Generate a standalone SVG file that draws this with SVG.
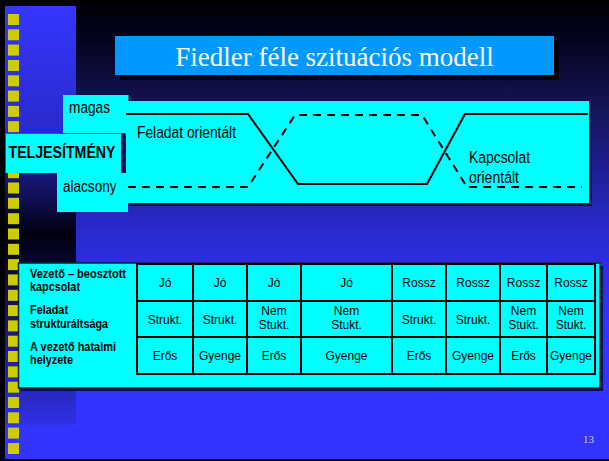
<svg xmlns="http://www.w3.org/2000/svg" width="609" height="461" viewBox="0 0 609 461">
<defs>
<linearGradient id="bg" x1="0" y1="5" x2="0" y2="459" gradientUnits="userSpaceOnUse">
<stop offset="0" stop-color="#000006"/>
<stop offset="0.06" stop-color="#02021a"/>
<stop offset="0.2" stop-color="#12124a"/>
<stop offset="0.5" stop-color="#2a2ad0"/>
<stop offset="0.7" stop-color="#3333ff"/>
<stop offset="1" stop-color="#3333ff"/>
</linearGradient>
<linearGradient id="strip" x1="0" y1="6" x2="0" y2="425" gradientUnits="userSpaceOnUse">
<stop offset="0" stop-color="#3535ff"/>
<stop offset="0.3" stop-color="#2a2acc"/>
<stop offset="0.545" stop-color="#000010"/>
<stop offset="1" stop-color="#3030e6"/>
</linearGradient>
<style>
.sq{fill:#cccc00}
.cy{fill:#00ffff}
.sh{fill:#10104e}
.lbl{font-family:"Liberation Sans",Arial,sans-serif;font-size:16px;fill:#000}
.b{font-weight:bold}
.cell{font-family:"Liberation Sans",Arial,sans-serif;font-size:12px;fill:#000;text-anchor:middle}
.rl{font-family:"Liberation Sans",Arial,sans-serif;font-size:12px;font-weight:bold;fill:#000}
.ln{fill:none;stroke:#000;stroke-width:2}
.dash{stroke-dasharray:8 6}
.grid{stroke:#000;stroke-width:2}
</style>
</defs>
<rect x="0" y="0" width="609" height="461" fill="#000"/>
<rect x="5" y="5" width="604" height="454" fill="url(#bg)"/>
<rect x="5" y="6" width="71" height="419" fill="url(#strip)"/>
<g id="squares">
<rect class="sq" x="8" y="14" width="11" height="11"/>
<rect class="sq" x="8" y="29.3" width="11" height="11"/>
<rect class="sq" x="8" y="44.6" width="11" height="11"/>
<rect class="sq" x="8" y="60" width="11" height="11"/>
<rect class="sq" x="8" y="75.3" width="11" height="11"/>
<rect class="sq" x="8" y="90.6" width="11" height="11"/>
<rect class="sq" x="8" y="105.9" width="11" height="11"/>
<rect class="sq" x="8" y="121.2" width="11" height="11"/>
<rect class="sq" x="8" y="136.6" width="11" height="11"/>
<rect class="sq" x="8" y="151.9" width="11" height="11"/>
<rect class="sq" x="8" y="167.2" width="11" height="11"/>
<rect class="sq" x="8" y="182.5" width="11" height="11"/>
<rect class="sq" x="8" y="197.8" width="11" height="11"/>
<rect class="sq" x="8" y="213.2" width="11" height="11"/>
<rect class="sq" x="8" y="228.5" width="11" height="11"/>
<rect class="sq" x="8" y="243.8" width="11" height="11"/>
<rect class="sq" x="8" y="259.1" width="11" height="11"/>
<rect class="sq" x="8" y="274.4" width="11" height="11"/>
<rect class="sq" x="8" y="289.8" width="11" height="11"/>
<rect class="sq" x="8" y="305.1" width="11" height="11"/>
<rect class="sq" x="8" y="320.4" width="11" height="11"/>
<rect class="sq" x="8" y="335.7" width="11" height="11"/>
<rect class="sq" x="8" y="351" width="11" height="11"/>
<rect class="sq" x="8" y="366.4" width="11" height="11"/>
<rect class="sq" x="8" y="381.7" width="11" height="11"/>
<rect class="sq" x="8" y="397" width="11" height="11"/>
<rect class="sq" x="8" y="412.3" width="11" height="11"/>
<rect class="sq" x="8" y="427.6" width="11" height="11"/>
<rect class="sq" x="8" y="443" width="11" height="11"/>
</g>
<g id="title">
<rect x="120" y="41" width="439" height="39" fill="#000"/>
<rect x="115" y="36" width="439" height="39" fill="#0099ff"/>
<text x="334.5" y="65.5" font-family="'Liberation Serif','Times New Roman',serif" font-size="27" fill="#fff" text-anchor="middle">Fiedler féle szituációs modell</text>
</g>
<g id="chart">
<rect class="sh" x="129" y="104" width="463" height="102"/>
<rect class="cy" x="126" y="101" width="463" height="102"/>
</g>
<g id="magas">
<rect class="cy" x="63" y="95" width="65.5" height="40"/>
<text class="lbl" x="69" y="113" textLength="41" lengthAdjust="spacingAndGlyphs">magas</text>
</g>
<g id="teljesitmeny">
<rect class="sh" x="120" y="133" width="5.5" height="40"/>
<rect class="cy" x="5" y="133" width="116" height="40"/>
<path d="M5.5 173 V133.5 H121" fill="none" stroke="#007777" stroke-width="1"/>
<text class="lbl b" x="8.5" y="158" textLength="107" lengthAdjust="spacingAndGlyphs">TELJESÍTMÉNY</text>
</g>
<g id="alacsony">
<rect class="cy" x="57" y="173" width="71" height="39"/>
<text class="lbl" x="63" y="192" textLength="53.5" lengthAdjust="spacingAndGlyphs">alacsony</text>
</g>
<g id="connectors">
<polyline class="ln" points="126,114 248,114 298,184 427,184 465,114 588,114"/>
<polyline class="ln dash" points="128,187 248,187 295,115 422,115 467,187 582,187"/>
</g>
<g id="labels">
<text class="lbl" x="137" y="137.5" textLength="99" lengthAdjust="spacingAndGlyphs">Feladat orientált</text>
<text class="lbl" x="469" y="163" textLength="61" lengthAdjust="spacingAndGlyphs">Kapcsolat</text>
<text class="lbl" x="469" y="183" textLength="50" lengthAdjust="spacingAndGlyphs">orientált</text>
</g>
<g id="table">
<rect class="sh" x="21.5" y="266" width="581.5" height="125"/>
<rect class="cy" x="18.5" y="263" width="581.5" height="125" stroke="#0a2a2a" stroke-width="1.5"/>
<text class="rl" x="30" y="278" textLength="96" lengthAdjust="spacingAndGlyphs">Vezető – beosztott</text>
<text class="rl" x="30" y="291" textLength="50" lengthAdjust="spacingAndGlyphs">kapcsolat</text>
<text class="rl" x="30" y="314" textLength="38" lengthAdjust="spacingAndGlyphs">Feladat</text>
<text class="rl" x="30" y="328" textLength="78" lengthAdjust="spacingAndGlyphs">strukturáltsága</text>
<text class="rl" x="30" y="351" textLength="86" lengthAdjust="spacingAndGlyphs">A vezető hatalmi</text>
<text class="rl" x="30" y="364" textLength="43" lengthAdjust="spacingAndGlyphs">helyzete</text>
<g class="grid">
<rect x="137" y="264" width="458" height="110" fill="none"/>
<line x1="137" y1="301" x2="595" y2="301"/>
<line x1="137" y1="337" x2="595" y2="337"/>
<line x1="193" y1="264" x2="193" y2="374"/>
<line x1="247" y1="264" x2="247" y2="374"/>
<line x1="301" y1="264" x2="301" y2="374"/>
<line x1="392" y1="264" x2="392" y2="374"/>
<line x1="446" y1="264" x2="446" y2="374"/>
<line x1="500" y1="264" x2="500" y2="374"/>
<line x1="547" y1="264" x2="547" y2="374"/>
</g>
<text class="cell" x="165" y="287">Jó</text>
<text class="cell" x="220" y="287">Jó</text>
<text class="cell" x="274" y="287">Jó</text>
<text class="cell" x="346.5" y="287">Jó</text>
<text class="cell" x="419" y="287">Rossz</text>
<text class="cell" x="473" y="287">Rossz</text>
<text class="cell" x="523.5" y="287">Rossz</text>
<text class="cell" x="571" y="287">Rossz</text>
<text class="cell" x="165" y="323.5">Strukt.</text>
<text class="cell" x="220" y="323.5">Strukt.</text>
<text class="cell" x="274" y="314.5">Nem</text>
<text class="cell" x="274" y="328.5">Stukt.</text>
<text class="cell" x="346.5" y="314.5">Nem</text>
<text class="cell" x="346.5" y="328.5">Stukt.</text>
<text class="cell" x="419" y="323.5">Strukt.</text>
<text class="cell" x="473" y="323.5">Strukt.</text>
<text class="cell" x="523.5" y="314.5">Nem</text>
<text class="cell" x="523.5" y="328.5">Stukt.</text>
<text class="cell" x="571" y="314.5">Nem</text>
<text class="cell" x="571" y="328.5">Stukt.</text>
<text class="cell" x="165" y="360">Erős</text>
<text class="cell" x="220" y="360">Gyenge</text>
<text class="cell" x="274" y="360">Erős</text>
<text class="cell" x="346.5" y="360">Gyenge</text>
<text class="cell" x="419" y="360">Erős</text>
<text class="cell" x="473" y="360">Gyenge</text>
<text class="cell" x="523.5" y="360">Erős</text>
<text class="cell" x="571" y="360">Gyenge</text>
</g>
<text x="583" y="443" font-family="'Liberation Serif','Times New Roman',serif" font-size="11" fill="#ccccff">13</text>
</svg>
